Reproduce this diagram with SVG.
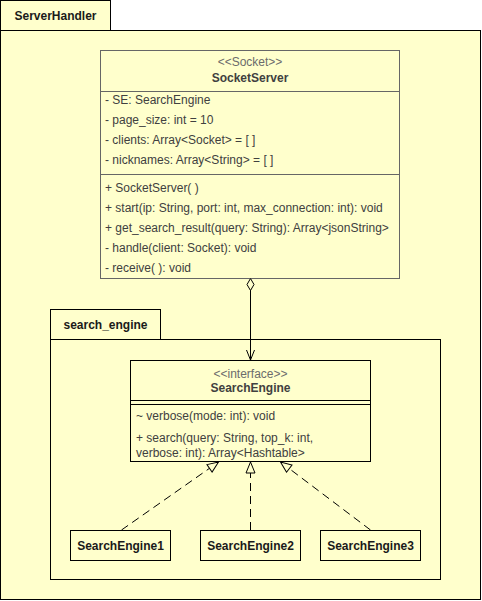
<svg xmlns="http://www.w3.org/2000/svg" width="482" height="601" viewBox="0 0 482 601">
  <style>
    .pkg { fill: #FFFFCC; stroke: #000000; stroke-width: 1; }
    .cls { fill: #FFFFCC; stroke: #666666; stroke-width: 1; }
    .impl { fill: #FFFFCC; stroke: #000000; stroke-width: 1; }
    .sep { stroke: #666666; stroke-width: 1; }
    text { font-family: "Liberation Sans", Arial, Helvetica, sans-serif; font-size: 12px; }
    .title { font-weight: bold; fill: #1a1a1a; }
    .cname { font-weight: bold; fill: #404040; text-anchor: middle; }
    .stereo { fill: #6b6b6b; text-anchor: middle; }
    .member { fill: #404040; }
    .mid { text-anchor: middle; }
    .edge { fill: none; stroke: #000000; stroke-width: 1; }
    .dash { stroke-dasharray: 8 5; }
  </style>
  <defs>
    <marker id="diamond" markerUnits="userSpaceOnUse" markerWidth="14" markerHeight="14" refX="0" refY="7" orient="auto" viewBox="0 0 14 14">
      <path d="M0,7 L6,3.5 L12,7 L6,10.5 Z" fill="#FFFFCC" stroke="#000000" stroke-width="1"/>
    </marker>
    <marker id="open" markerUnits="userSpaceOnUse" markerWidth="14" markerHeight="14" refX="12" refY="7" orient="auto" viewBox="0 0 14 14">
      <path d="M2,3 L12,7 L2,11" fill="none" stroke="#000000" stroke-width="1"/>
    </marker>
    <marker id="tri" markerUnits="userSpaceOnUse" markerWidth="16" markerHeight="16" refX="13" refY="8" orient="auto" viewBox="0 0 16 16">
      <path d="M2,3.5 L13,8 L2,12.5 Z" fill="#FFFFCC" stroke="#000000" stroke-width="1"/>
    </marker>
  </defs>

  <!-- Package: ServerHandler -->
  <g id="pkg-serverhandler">
    <rect class="pkg" x="0.5" y="0.5" width="110" height="30"/>
    <rect class="pkg" x="0.5" y="30.5" width="480" height="569"/>
    <text class="title mid" x="55.5" y="19.5">ServerHandler</text>
  </g>

  <!-- Package: search_engine -->
  <g id="pkg-search-engine">
    <rect class="pkg" x="50.5" y="309.5" width="110" height="30"/>
    <rect class="pkg" x="50.5" y="339.5" width="390" height="240"/>
    <text class="title mid" x="105.5" y="328.5">search_engine</text>
  </g>

  <!-- Class: SocketServer -->
  <g id="cls-socketserver">
    <rect class="cls" x="100.5" y="50.5" width="299" height="228"/>
    <text class="stereo" x="250" y="66">&lt;&lt;Socket&gt;&gt;</text>
    <text class="cname" x="250" y="82">SocketServer</text>
    <line class="sep" x1="100.5" y1="91.5" x2="399.5" y2="91.5"/>
    <text class="member" x="105" y="104">- SE: SearchEngine</text>
    <text class="member" x="105" y="124">- page_size: int = 10</text>
    <text class="member" x="105" y="144">- clients: Array&lt;Socket&gt; = [ ]</text>
    <text class="member" x="105" y="164">- nicknames: Array&lt;String&gt; = [ ]</text>
    <line class="sep" x1="100.5" y1="174.5" x2="399.5" y2="174.5"/>
    <text class="member" x="105" y="192">+ SocketServer( )</text>
    <text class="member" x="105" y="212">+ start(ip: String, port: int, max_connection: int): void</text>
    <text class="member" x="105" y="232">+ get_search_result(query: String): Array&lt;jsonString&gt;</text>
    <text class="member" x="105" y="252">- handle(client: Socket): void</text>
    <text class="member" x="105" y="272">- receive( ): void</text>
  </g>

  <!-- Interface: SearchEngine -->
  <g id="cls-searchengine">
    <rect class="impl" x="130.5" y="360.5" width="240" height="101"/>
    <text class="stereo" x="250.5" y="378">&lt;&lt;interface&gt;&gt;</text>
    <text class="cname" x="250.5" y="392">SearchEngine</text>
    <line class="edge" x1="130.5" y1="400.5" x2="370.5" y2="400.5"/>
    <line class="edge" x1="130.5" y1="404.5" x2="370.5" y2="404.5"/>
    <text class="member" x="136" y="420">~ verbose(mode: int): void</text>
    <text class="member" x="136" y="442">+ search(query: String, top_k: int,</text>
    <text class="member" x="136" y="457">verbose: int): Array&lt;Hashtable&gt;</text>
  </g>

  <!-- Implementations -->
  <g id="cls-searchengine1">
    <rect class="impl" x="70.5" y="530.5" width="100" height="30"/>
    <text class="title mid" x="120.5" y="549.5">SearchEngine1</text>
  </g>
  <g id="cls-searchengine2">
    <rect class="impl" x="200.5" y="530.5" width="100" height="30"/>
    <text class="title mid" x="250.5" y="549.5">SearchEngine2</text>
  </g>
  <g id="cls-searchengine3">
    <rect class="impl" x="320.5" y="530.5" width="100" height="30"/>
    <text class="title mid" x="370.5" y="549.5">SearchEngine3</text>
  </g>

  <!-- Connectors -->
  <g id="connectors">
    <line class="edge" x1="250.5" y1="278.5" x2="250.5" y2="360" marker-start="url(#diamond)" marker-end="url(#open)"/>
    <line class="edge dash" x1="121.5" y1="530" x2="218.5" y2="462" marker-end="url(#tri)"/>
    <line class="edge dash" x1="250.5" y1="530" x2="250.5" y2="462" marker-end="url(#tri)"/>
    <line class="edge dash" x1="370.5" y1="530" x2="280.5" y2="462" marker-end="url(#tri)"/>
  </g>
</svg>
